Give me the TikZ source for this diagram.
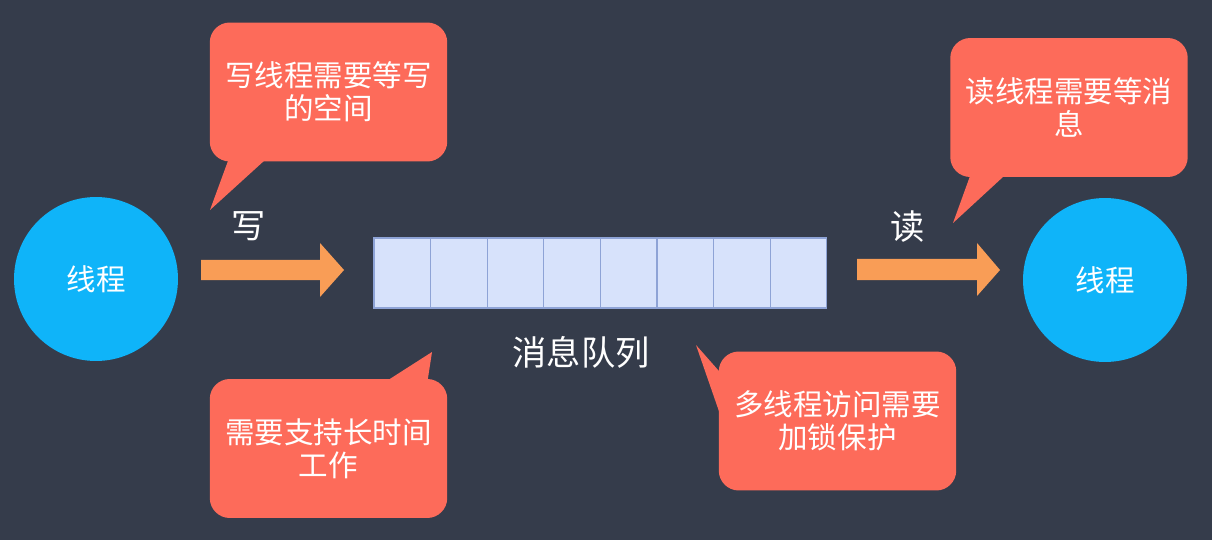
\documentclass[tikz,border=0pt]{standalone}
\usepackage{fontspec}
\setmainfont{Noto Sans CJK SC}
\usetikzlibrary{positioning}
\definecolor{bg}{HTML}{353C4B}
\definecolor{note}{HTML}{FD6B5A}
\definecolor{thread}{HTML}{0FB4F9}
\definecolor{flow}{HTML}{F99D56}
\definecolor{slot}{HTML}{D7E2FB}
\definecolor{slotline}{HTML}{8EA3D6}

\begin{document}
\begin{tikzpicture}[x=0.02cm,y=-0.02cm,
  every node/.style={text=white,font=\fontsize{16.8}{19}\selectfont},
  thread/.style={circle,fill=thread,minimum size=3.28cm,inner sep=0pt},
  notebox/.style={fill=note,rounded corners=0.4cm,minimum width=4.75cm,minimum height=2.78cm,align=center,inner sep=0pt},
  cell/.style={draw=slotline,fill=slot,line width=.6pt,minimum width=1.132cm,minimum height=1.4cm,inner sep=0pt},
  big/.style={font=\fontsize{19.5}{22}\selectfont}]
\fill[bg] (0,0) rectangle (1212,540);
\useasboundingbox (0,0) rectangle (1212,540);
\node[thread] (writer) at (96,279) {线程};
\node[thread] (reader) at (1105,280) {线程};
\foreach \i in {0,...,7}
  \node[cell] (q\i) at (402.3+56.6*\i,273) {};
\node[big] (qname) at (581,352) {消息队列};
\node[big] (wlabel) at (249,226) {写};
\node[big] (rlabel) at (908,227) {读};
\fill[flow] (201,260) -- (320,260) -- (320,243) -- (344,270) -- (320,297) -- (320,280) -- (201,280) -- cycle;
\fill[flow] (857,259) -- (977,259) -- (977,243) -- (1000,270) -- (977,296) -- (977,280) -- (857,280) -- cycle;
\fill[note] (210,210) -- (232,150) -- (276,150) -- cycle;
\node[notebox] (wnote) at (328.5,92) {写线程需要等写\\的空间};
\fill[note] (953,223) -- (974,165) -- (1016,165) -- cycle;
\node[notebox] (rnote) at (1069,107.5) {读线程需要等消\\息};
\fill[note] (432,352) -- (371,391) -- (426,391) -- cycle;
\node[notebox] (tnote) at (328.5,448.5) {需要支持长时间\\工作};
\fill[note] (696,345) -- (726,379) -- (722,420) -- cycle;
\node[notebox] (lnote) at (837.5,421) {多线程访问需要\\加锁保护};
\end{tikzpicture}
\end{document}
